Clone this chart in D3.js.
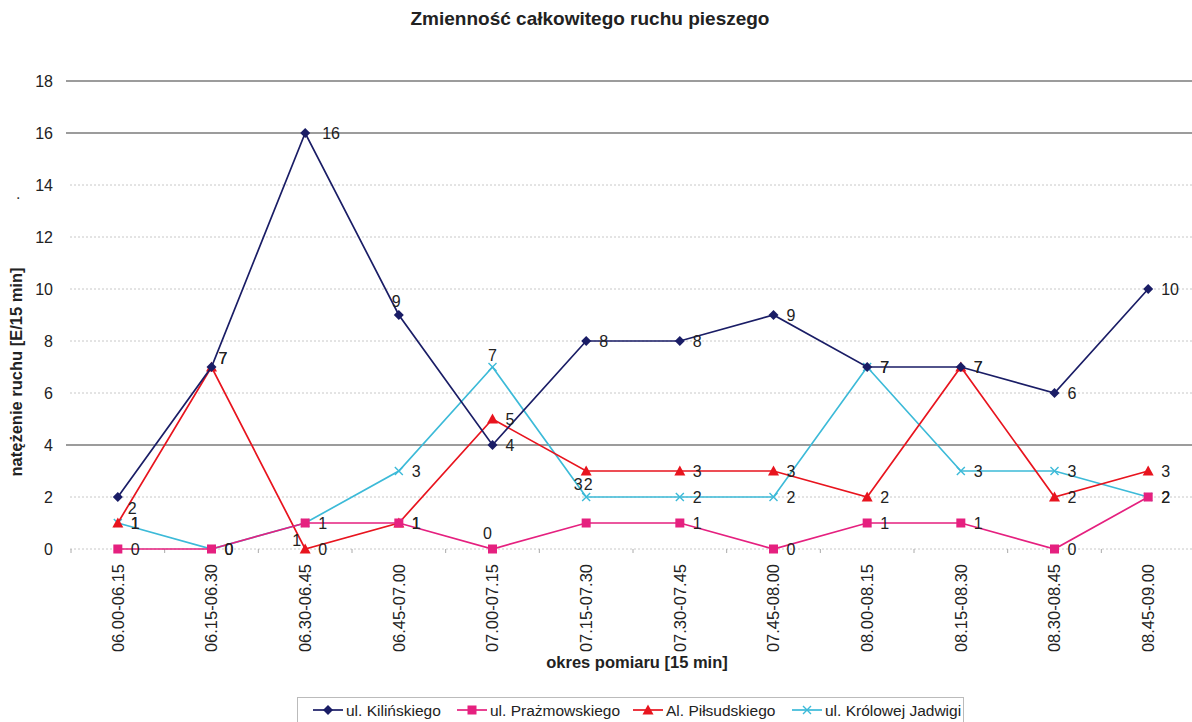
<!DOCTYPE html>
<html>
<head>
<meta charset="utf-8">
<script src="https://cdn.jsdelivr.net/npm/d3@7"></script>
<style>
  body { margin: 0; background: #fff; }
  svg { display: block; font-family: Arial, "Liberation Sans", sans-serif; }
</style>
</head>
<body>
<script>
// data
const periods = ["06.00-06.15", "06.15-06.30", "06.30-06.45", "06.45-07.00", "07.00-07.15", "07.15-07.30",
                 "07.30-07.45", "07.45-08.00", "08.00-08.15", "08.15-08.30", "08.30-08.45", "08.45-09.00"];
const kilinskiego = [2, 7, 16, 9, 4, 8, 8, 9, 7, 7, 6, 10];
const prazmowskiego = [0, 0, 1, 1, 0, 1, 1, 0, 1, 1, 0, 2];
const pilsudskiego = [1, 7, 0, 1, 5, 3, 3, 3, 2, 7, 2, 3];
const jadwigi = [1, 0, 1, 3, 7, 2, 2, 2, 7, 3, 3, 2];
const yTicks = [0, 2, 4, 6, 8, 10, 12, 14, 16, 18];

const series = [
  {name: "ul. Kilińskiego", values: kilinskiego, color: "#1a1d66", marker: "diamond"},
  {name: "ul. Prażmowskiego", values: prazmowskiego, color: "#e5207f", marker: "square"},
  {name: "Al. Piłsudskiego", values: pilsudskiego, color: "#e8141e", marker: "triangle"},
  {name: "ul. Królowej Jadwigi", values: jadwigi, color: "#3cbad8", marker: "cross"}
];

// label placement tweaks (series index - point index): [dx, dy, anchor]
const labelTweaks = {
  "0-0": [10, 11], "0-1": [7, -9], "0-2": [17, 0], "0-3": [-7, -14, "start"],
  "2-1": [7, -9], "3-2": [-13, 17],
  "3-4": [0, -12, "middle"], "1-4": [-5, -16, "middle"],
  "2-5": [-8, 13, "middle"], "3-5": [2, -13, "middle"], "1-5": null
};

const width = 1192, height = 722;
const svg = d3.select("body").append("svg").attr("width", width).attr("height", height);

const x = d3.scalePoint().domain(periods).range([71, 1195]).padding(0.5);
const y = d3.scaleLinear().domain([0, 18]).range([549, 81]);

// title
svg.append("text").attr("x", 590).attr("y", 25).attr("text-anchor", "middle")
  .attr("font-size", 19).attr("font-weight", "bold").attr("fill", "#222")
  .text("Zmienność całkowitego ruchu pieszego");

// gridlines (some of them came out dark in the scan)
const dark = [4, 16, 18];
svg.append("g").selectAll("line").data(yTicks).join("line")
  .attr("x1", d => dark.includes(d) ? 66 : 70).attr("x2", width)
  .attr("y1", d => y(d)).attr("y2", d => y(d))
  .attr("stroke", d => dark.includes(d) ? "#3a3a3a" : "#c8c8c8")
  .attr("stroke-width", d => dark.includes(d) ? 1.1 : 1)
  .attr("stroke-dasharray", d => dark.includes(d) ? null : "2,2");

// y axis labels
svg.append("g").selectAll("text").data(yTicks).join("text")
  .attr("x", 53).attr("y", d => y(d)).attr("dy", "0.36em").attr("text-anchor", "end")
  .attr("font-size", 16).attr("fill", "#222").text(d => d);

// small category ticks on the zero line
const step = x.step();
svg.append("g").selectAll("line").data(d3.range(periods.length + 1)).join("line")
  .attr("x1", i => x(periods[0]) - step / 2 + i * step).attr("x2", i => x(periods[0]) - step / 2 + i * step)
  .attr("y1", y(0)).attr("y2", y(0) + 4).attr("stroke", "#aaa");

// x axis labels, rotated
svg.append("g").selectAll("text").data(periods).join("text")
  .attr("transform", d => `translate(${x(d)},564) rotate(-90)`)
  .attr("text-anchor", "end").attr("dy", "0.36em")
  .attr("font-size", 16.5).attr("fill", "#222").text(d => d);

// axis titles
svg.append("text").attr("x", 637).attr("y", 668).attr("text-anchor", "middle")
  .attr("font-size", 16.5).attr("font-weight", "bold").attr("fill", "#222")
  .text("okres pomiaru [15 min]");
svg.append("text").attr("transform", "translate(22,372) rotate(-90)").attr("text-anchor", "middle")
  .attr("font-size", 16.5).attr("font-weight", "bold").attr("fill", "#222")
  .text("natężenie ruchu [E/15 min]");
svg.append("text").attr("x", 16).attr("y", 199).attr("font-size", 16).attr("fill", "#333").text(".");

function drawMarker(g, type, color) {
  if (type === "diamond") {
    g.append("path").attr("d", "M0,-5L5,0L0,5L-5,0Z").attr("fill", color);
  } else if (type === "square") {
    g.append("rect").attr("x", -4.5).attr("y", -4.5).attr("width", 9).attr("height", 9).attr("fill", color);
  } else if (type === "triangle") {
    g.append("path").attr("d", "M0,-5.5L5.5,4.5L-5.5,4.5Z").attr("fill", color);
  } else {
    g.append("path").attr("d", "M-4,-4L4,4M-4,4L4,-4").attr("stroke", color).attr("stroke-width", 1.4);
  }
}

const line = d3.line().x((d, i) => x(periods[i])).y(d => y(d));

// lines and markers, drawn back to front so Kilińskiego ends on top
[3, 2, 1, 0].forEach(si => {
  const s = series[si];
  const g = svg.append("g");
  g.append("path").datum(s.values).attr("d", line)
    .attr("fill", "none").attr("stroke", s.color).attr("stroke-width", 1.7);
  s.values.forEach((v, i) => {
    const m = g.append("g").attr("transform", `translate(${x(periods[i])},${y(v)})`);
    drawMarker(m, s.marker, s.color);
  });
});

// data labels
series.forEach((s, si) => {
  s.values.forEach((v, i) => {
    const key = si + "-" + i;
    let tw = [13, 0, "start"];
    if (key in labelTweaks) {
      if (labelTweaks[key] === null) return;
      tw = labelTweaks[key];
    }
    svg.append("text")
      .attr("x", x(periods[i]) + tw[0]).attr("y", y(v) + tw[1]).attr("dy", "0.36em")
      .attr("text-anchor", tw[2] || "start")
      .attr("font-size", 16).attr("fill", "#222").text(v);
  });
});

// legend
const legend = svg.append("g");
legend.append("rect").attr("x", 297.5).attr("y", 697.5).attr("width", 666).attr("height", 32)
  .attr("fill", "#fff").attr("stroke", "#bbb");
const legendX = [313, 457, 633, 792];
series.forEach((s, i) => {
  const g = legend.append("g").attr("transform", `translate(${legendX[i]},710)`);
  g.append("line").attr("x1", 0).attr("x2", 30).attr("stroke", s.color).attr("stroke-width", 1.7);
  const m = g.append("g").attr("transform", "translate(15,0)");
  drawMarker(m, s.marker, s.color);
  g.append("text").attr("x", 33).attr("dy", "0.36em").attr("font-size", 15.5).attr("fill", "#222").text(s.name);
});
</script>
</body>
</html>
